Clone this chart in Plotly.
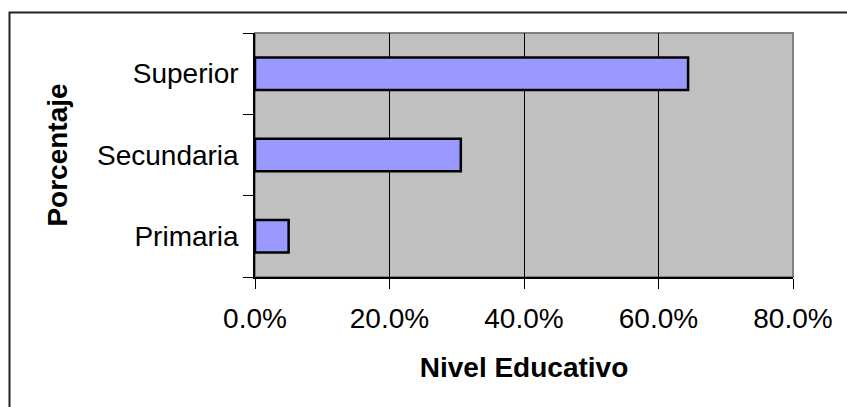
import plotly.graph_objects as go

# Distribución por nivel educativo
categorias = ["Primaria", "Secundaria", "Superior"]
porcentajes = [0.050, 0.306, 0.644]
ticks_x = [0.0, 0.2, 0.4, 0.6, 0.8]
etiquetas_x = ["0.0%", "20.0%", "40.0%", "60.0%", "80.0%"]

W, H = 847, 407
L, R, T, B = 255, 54, 33, 130
pw, ph = W - L - R, H - T - B

fuente = "Liberation Sans, Arial, sans-serif"
tam = 28

fig = go.Figure(
    go.Bar(
        x=porcentajes,
        y=categorias,
        orientation="h",
        marker=dict(color="#9999FF", line=dict(color="black", width=2.5)),
        hoverinfo="skip",
    )
)

fig.update_layout(
    width=W,
    height=H,
    margin=dict(l=L, r=R, t=T, b=B, autoexpand=False),
    paper_bgcolor="white",
    plot_bgcolor="#C0C0C0",
    bargap=0.6,
    showlegend=False,
    font=dict(family=fuente, size=tam, color="black"),
)

fig.update_xaxes(
    range=[0, 0.8],
    tickvals=ticks_x,
    ticktext=etiquetas_x,
    showgrid=True,
    gridcolor="black",
    gridwidth=1,
    zeroline=False,
    showline=True,
    linecolor="black",
    linewidth=1.5,
    ticks="outside",
    ticklen=10,
    tickcolor="black",
    tickfont=dict(size=tam),
    ticklabelstandoff=6,
    automargin=False,
    title=dict(text="<b>Nivel Educativo</b>", font=dict(size=tam), standoff=24),
)

fig.update_yaxes(
    categoryorder="array",
    categoryarray=categorias,
    tickson="boundaries",
    showgrid=False,
    zeroline=False,
    showline=True,
    linecolor="black",
    linewidth=1.5,
    ticks="outside",
    ticklen=10,
    tickcolor="black",
    tickfont=dict(size=tam),
    ticklabelstandoff=9,
    automargin=False,
    title=dict(text="<b>Porcentaje</b>", font=dict(size=tam), standoff=21),
)

def px_x(v):
    return (v - L) / pw

def px_y(v):
    return (H - B - v) / ph

fig.add_shape(
    type="rect", xref="paper", yref="paper",
    x0=0, x1=1, y0=0, y1=1,
    line=dict(color="#808080", width=2), layer="below",
)
fig.add_shape(
    type="rect", xref="paper", yref="paper",
    x0=px_x(9.5), x1=px_x(W + 20), y0=px_y(H + 20), y1=px_y(12.5),
    line=dict(color="#222222", width=2),
)

fig.write_html("out.html")
